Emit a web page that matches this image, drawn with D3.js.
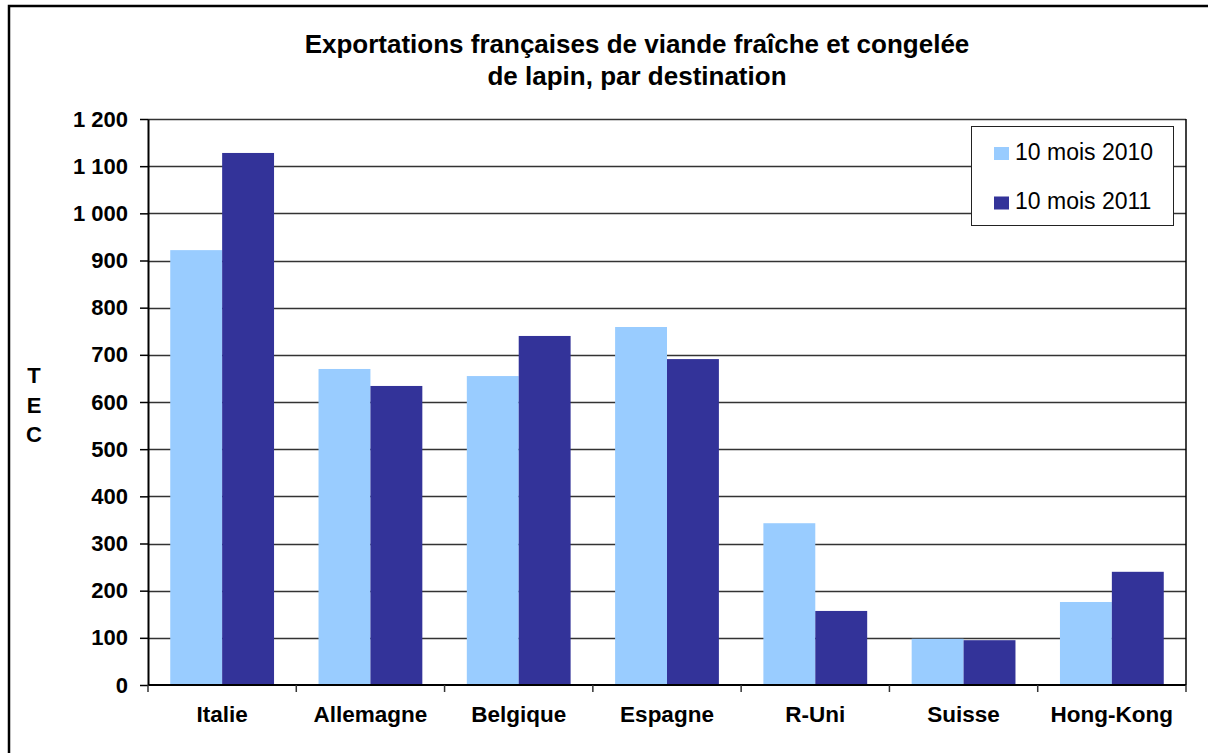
<!DOCTYPE html>
<html>
<head>
<meta charset="utf-8">
<script src="https://cdn.jsdelivr.net/npm/d3@7"></script>
<style>
body { margin: 0; background: #fff; }
svg text { font-family: "Liberation Sans", Arial, sans-serif; }
</style>
</head>
<body>
<svg id="chart" width="1208" height="753"></svg>
<script>
// chart data
var destinations = ["Italie", "Allemagne", "Belgique", "Espagne", "R-Uni", "Suisse", "Hong-Kong"];
var values2010 = [922, 670, 655, 759, 343, 98, 176];
var values2011 = [1128, 634, 740, 691, 157, 95, 240];
var seriesNames = ["10 mois 2010", "10 mois 2011"];
var seriesColors = ["#99ccff", "#333399"];
var yTicks = [0, 100, 200, 300, 400, 500, 600, 700, 800, 900, 1000, 1100, 1200];

var svg = d3.select("#chart");
var plotLeft = 148, plotRight = 1186, plotTop = 119, plotBottom = 685;

// outer frame
svg.append("rect").attr("x", 9).attr("y", 6).attr("width", 1215).attr("height", 760)
    .attr("fill", "none").attr("stroke", "#000").attr("stroke-width", 2.5);

var y = d3.scaleLinear().domain([0, 1200]).range([plotBottom, plotTop]);
var x0 = d3.scaleBand().domain(destinations).range([plotLeft, plotRight]).paddingInner(0).paddingOuter(0);
var x1 = d3.scaleBand().domain(seriesNames).range([0, x0.bandwidth() * 0.7]);
var groupOffset = x0.bandwidth() * 0.15;

// gridlines
svg.append("g").selectAll("line").data(yTicks.slice(1)).enter().append("line")
    .attr("x1", plotLeft).attr("x2", plotRight)
    .attr("y1", function(d) { return Math.round(y(d)) + 0.5; })
    .attr("y2", function(d) { return Math.round(y(d)) + 0.5; })
    .attr("stroke", "#333")
    .attr("stroke-width", 1.4);

// bars
var data = destinations.map(function(d, i) {
    return { name: d, vals: [values2010[i], values2011[i]] };
});
var groups = svg.append("g").selectAll("g").data(data).enter().append("g")
    .attr("transform", function(d) { return "translate(" + (x0(d.name) + groupOffset) + ",0)"; });
groups.selectAll("rect").data(function(d) {
    return d.vals.map(function(v, i) { return { key: seriesNames[i], v: v, c: seriesColors[i] }; });
}).enter().append("rect")
    .attr("x", function(d) { return x1(d.key); })
    .attr("width", x1.bandwidth())
    .attr("y", function(d) { return y(d.v); })
    .attr("height", function(d) { return plotBottom - y(d.v); })
    .attr("fill", function(d) { return d.c; });

// right edge line
svg.append("line").attr("x1", plotRight).attr("x2", plotRight).attr("y1", plotTop).attr("y2", plotBottom)
    .attr("stroke", "#000").attr("stroke-width", 1.5);

// y axis
var fmt = function(d) { return d >= 1000 ? Math.floor(d / 1000) + " " + d3.format("03")(d % 1000) : String(d); };
var yAxis = svg.append("g").attr("transform", "translate(" + plotLeft + ",0)")
    .call(d3.axisLeft(y).tickValues(yTicks).tickFormat(fmt).tickSizeInner(8).tickSizeOuter(0).tickPadding(12));
yAxis.select(".domain").attr("stroke", "#000").attr("stroke-width", 2);
yAxis.selectAll(".tick line").attr("stroke", "#000").attr("stroke-width", 1.5);
yAxis.selectAll("text").attr("font-size", 22).attr("font-weight", "bold").attr("fill", "#000")
    .attr("font-family", "Liberation Sans, Arial, sans-serif");

// x axis
var xAxis = svg.append("g").attr("transform", "translate(0," + plotBottom + ")")
    .call(d3.axisBottom(x0).tickSize(0).tickPadding(21));
xAxis.select(".domain").attr("stroke", "#000").attr("stroke-width", 2).attr("d", "M" + plotLeft + ",0H" + plotRight);
xAxis.selectAll("text").attr("font-size", 22.5).attr("font-weight", "bold").attr("fill", "#000")
    .attr("dy", null).attr("y", 37)
    .attr("font-family", "Liberation Sans, Arial, sans-serif");
svg.append("g").selectAll("line").data(destinations.concat(["end"])).enter().append("line")
    .attr("x1", function(d) { return d == "end" ? plotRight : x0(d); })
    .attr("x2", function(d) { return d == "end" ? plotRight : x0(d); })
    .attr("y1", plotBottom).attr("y2", plotBottom + 7)
    .attr("stroke", "#333").attr("stroke-width", 1.5);

// title
var title = svg.append("text").attr("text-anchor", "middle").attr("font-size", 26).attr("font-weight", "bold");
title.append("tspan").attr("x", 637).attr("y", 53).text("Exportations françaises de viande fraîche et congelée");
title.append("tspan").attr("x", 637).attr("y", 85).text("de lapin, par destination");

// y axis label
svg.append("g").selectAll("text").data(["T", "E", "C"]).enter().append("text")
    .attr("x", 34).attr("y", function(d, i) { return 383 + i * 29.5; })
    .attr("text-anchor", "middle").attr("font-size", 22).attr("font-weight", "bold").text(function(d) { return d; });

// legend
var legend = svg.append("g");
legend.append("rect").attr("x", 971.5).attr("y", 126.5).attr("width", 202).attr("height", 99)
    .attr("fill", "#fff").attr("stroke", "#222").attr("stroke-width", 1);
var items = legend.selectAll("g").data(seriesNames).enter().append("g")
    .attr("transform", function(d, i) { return "translate(994," + (147 + i * 49.5) + ")"; });
items.append("rect").attr("width", 15).attr("height", 13).attr("fill", function(d, i) { return seriesColors[i]; });
items.append("text").attr("x", 21).attr("y", 12.5).attr("font-size", 23).attr("fill", "#000").text(function(d) { return d; });
</script>
</body>
</html>
